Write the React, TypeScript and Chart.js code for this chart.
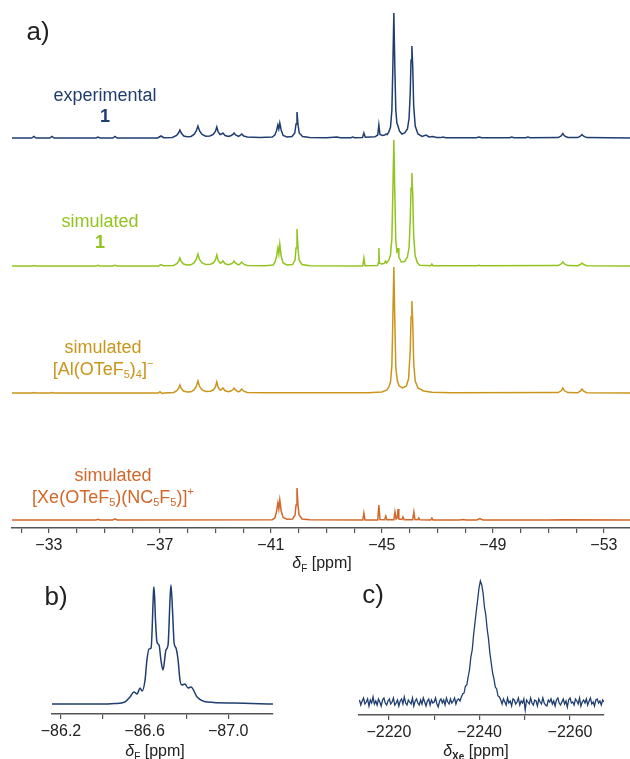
import React, { useEffect, useRef } from 'react';
import { Chart, registerables } from 'chart.js';

Chart.register(...registerables);

const FONT = '"Liberation Sans", Arial, Helvetica, sans-serif';
const BLUE = '#1f3d6e';
const GREEN = '#92c41e';
const GOLD = '#c9951c';
const ORANGE = '#d2672a';
const AXIS = '#555555';
const TEXT = '#222222';

// ---------- Panel a: 19F spectra (ppm, intensity) ----------
const A_RANGE = [-53.94, -31.67];
const A_TICKS = [-32, -33, -34, -35, -36, -37, -38, -39, -40, -41, -42, -43, -44, -45, -46, -47, -48, -49, -50, -51, -52, -53];
const A_LABELED = [-33, -37, -41, -45, -49, -53];
const A_OFFSETS = { experimental: 390, sim1: 262, al: 135, xe: 8 };

const EXPERIMENTAL: [number, number][] = [
  [-31.67, 0], [-32.38, 0], [-32.46, 1.5], [-32.54, 0],
  [-33.03, 0], [-33.11, 1.5], [-33.19, 0],
  [-34.70, 0], [-34.77, 1], [-34.84, 0],
  [-35.30, 0], [-35.38, 1.5], [-35.46, 0],
  [-36.92, 0], [-37.04, 2], [-37.14, 0.3],
  [-37.45, 0.5], [-37.60, 2.5], [-37.67, 5], [-37.72, 8], [-37.77, 5], [-37.86, 2], [-37.98, 1.2],
  [-38.12, 1.5], [-38.23, 3.5], [-38.31, 7], [-38.37, 12], [-38.43, 7], [-38.52, 3.5], [-38.65, 1.8],
  [-38.80, 2], [-38.92, 3.5], [-39.00, 6.5], [-39.05, 11], [-39.10, 6], [-39.17, 3.5],
  [-39.22, 4], [-39.27, 5], [-39.35, 2.5], [-39.47, 1.5],
  [-39.57, 2.5], [-39.63, 3.5], [-39.67, 5], [-39.73, 3], [-39.83, 1.5],
  [-39.89, 2.5], [-39.95, 4], [-40.02, 2], [-40.15, 1],
  [-40.6, 0.6], [-41.05, 1],
  [-41.14, 3], [-41.20, 7], [-41.25, 13], [-41.285, 9], [-41.32, 15], [-41.37, 8], [-41.44, 2.5], [-41.58, 1],
  [-41.76, 1.5], [-41.86, 5], [-41.905, 14], [-41.94, 26], [-41.975, 14], [-42.02, 5], [-42.14, 1.5], [-42.4, 0.5],
  [-43.0, 0.3], [-43.38, 1], [-43.5, 0.3],
  [-43.88, 0.3], [-43.95, 1], [-44.02, 0.3],
  [-44.30, 0.5], [-44.35, 5], [-44.40, 0.8],
  [-44.75, 1.2], [-44.85, 3], [-44.89, 13], [-44.93, 3.5], [-45.02, 2.5],
  [-45.10, 3], [-45.14, 4], [-45.19, 3.5],
  [-45.25, 6], [-45.31, 11], [-45.36, 28], [-45.395, 72], [-45.43, 125], [-45.465, 72], [-45.50, 28], [-45.54, 15],
  [-45.58, 12], [-45.63, 7], [-45.72, 4], [-45.82, 5], [-45.92, 9], [-45.98, 20], [-46.02, 45], [-46.05, 78],
  [-46.08, 92], [-46.11, 72], [-46.145, 32], [-46.20, 12], [-46.30, 4],
  [-46.45, 1.5], [-46.59, 3], [-46.70, 1],
  [-46.84, 1.5], [-46.97, 0.5],
  [-47.12, 0.4], [-47.20, 1], [-47.30, 0.3],
  [-48.40, 0.2], [-48.50, 1], [-48.60, 0.2],
  [-49.60, 0.2], [-49.68, 1], [-49.76, 0.2],
  [-50.18, 0.2], [-50.26, 1], [-50.34, 0.2],
  [-51.35, 0.4], [-51.46, 2], [-51.52, 4.5], [-51.58, 2], [-51.70, 0.5],
  [-52.05, 0.4], [-52.15, 1.8], [-52.21, 3.5], [-52.27, 1.8], [-52.38, 0.4],
  [-53.94, 0],
];

const SIMULATED_1: [number, number][] = [
  [-31.67, 0], [-32.40, 0], [-32.46, 0.5], [-32.52, 0],
  [-34.70, 0], [-34.77, 0.6], [-34.84, 0],
  [-35.30, 0], [-35.38, 0.8], [-35.46, 0],
  [-36.95, 0], [-37.04, 1.5], [-37.13, 0.2],
  [-37.50, 0.5], [-37.62, 2.5], [-37.68, 5], [-37.72, 8], [-37.76, 5], [-37.85, 2], [-37.98, 1],
  [-38.12, 1.2], [-38.23, 3], [-38.31, 6.5], [-38.37, 12], [-38.43, 6.5], [-38.52, 3], [-38.65, 1.5],
  [-38.82, 1.8], [-38.93, 3.2], [-39.00, 6], [-39.05, 11], [-39.10, 5.5], [-39.17, 3],
  [-39.22, 3.5], [-39.27, 5], [-39.35, 2.2], [-39.47, 1.2],
  [-39.57, 2.2], [-39.63, 3.2], [-39.67, 5], [-39.73, 2.8], [-39.83, 1.2],
  [-39.89, 2.2], [-39.95, 4], [-40.02, 1.8], [-40.15, 0.6],
  [-40.8, 0.3], [-41.08, 1],
  [-41.15, 4], [-41.20, 9], [-41.25, 18], [-41.285, 12], [-41.32, 22], [-41.37, 10], [-41.44, 3], [-41.58, 1],
  [-41.78, 1.5], [-41.87, 6], [-41.905, 18], [-41.94, 37], [-41.975, 18], [-42.015, 6], [-42.12, 1.5], [-42.4, 0.3],
  [-44.31, 0], [-44.35, 8], [-44.39, 0.3],
  [-44.84, 0.5], [-44.87, 3], [-44.89, 18], [-44.91, 3], [-44.98, 2],
  [-45.08, 2.5], [-45.13, 5], [-45.17, 3],
  [-45.25, 6], [-45.31, 11], [-45.36, 28], [-45.395, 75], [-45.43, 126], [-45.465, 72], [-45.50, 26], [-45.54, 14],
  [-45.57, 15], [-45.58, 18], [-45.61, 9], [-45.70, 4], [-45.82, 4.5], [-45.92, 9], [-45.98, 19], [-46.02, 45],
  [-46.05, 78], [-46.08, 93], [-46.11, 72], [-46.145, 30], [-46.20, 10], [-46.28, 3],
  [-46.32, 2], [-46.36, 0.8],
  [-46.76, 0.3], [-46.80, 2], [-46.84, 0.3],
  [-48.45, 0.2], [-48.50, 0.6], [-48.55, 0.2],
  [-51.35, 0.4], [-51.46, 2], [-51.52, 4], [-51.58, 2], [-51.70, 0.4],
  [-52.05, 0.3], [-52.15, 1.5], [-52.21, 3], [-52.27, 1.5], [-52.38, 0.3],
  [-53.94, 0],
];

const SIMULATED_AL: [number, number][] = [
  [-31.67, 0], [-32.40, 0], [-32.46, 0.5], [-32.52, 0],
  [-33.05, 0], [-33.11, 0.5], [-33.17, 0],
  [-36.95, 0], [-37.00, 1.2], [-37.08, -0.5], [-37.15, 0],
  [-37.50, 0.5], [-37.62, 2.5], [-37.68, 5], [-37.72, 8], [-37.76, 5], [-37.85, 2], [-37.98, 1],
  [-38.12, 1.2], [-38.23, 3], [-38.31, 6.5], [-38.37, 12], [-38.43, 6.5], [-38.52, 3], [-38.65, 1.5],
  [-38.82, 1.8], [-38.93, 3.2], [-39.00, 6], [-39.05, 11], [-39.10, 5.5], [-39.17, 3],
  [-39.22, 3.5], [-39.27, 5], [-39.35, 2.2], [-39.47, 1.2],
  [-39.57, 2.2], [-39.63, 3.2], [-39.67, 5], [-39.73, 2.8], [-39.83, 1.2],
  [-39.89, 2.2], [-39.95, 4], [-40.02, 1.8], [-40.15, 0.6],
  [-40.8, 0.2], [-44.5, 0.3], [-45.0, 1], [-45.18, 3],
  [-45.25, 6], [-45.31, 11], [-45.36, 28], [-45.395, 75], [-45.43, 126], [-45.465, 72], [-45.50, 26], [-45.55, 13],
  [-45.62, 7], [-45.75, 5], [-45.88, 7], [-45.96, 14], [-46.02, 42], [-46.05, 76], [-46.08, 92], [-46.11, 72],
  [-46.145, 30], [-46.20, 12], [-46.30, 5], [-46.5, 2], [-46.8, 0.8], [-47.5, 0.2],
  [-51.35, 0.4], [-51.46, 2.2], [-51.52, 5], [-51.58, 2.2], [-51.70, 0.4],
  [-52.05, 0.3], [-52.15, 1.8], [-52.21, 4], [-52.27, 1.8], [-52.38, 0.3],
  [-53.94, 0],
];

const SIMULATED_XE: [number, number][] = [
  [-31.67, 0], [-34.70, 0], [-34.77, 0.8], [-34.84, 0],
  [-35.30, 0], [-35.38, 1.2], [-35.46, 0],
  [-41.05, 0.3], [-41.14, 2], [-41.20, 8], [-41.25, 17], [-41.285, 11], [-41.32, 20], [-41.37, 9], [-41.44, 2.5], [-41.58, 0.8],
  [-41.78, 1], [-41.87, 5], [-41.905, 15], [-41.94, 32], [-41.975, 15], [-42.015, 5], [-42.12, 1], [-42.4, 0.2],
  [-44.31, 0], [-44.35, 7], [-44.39, 0],
  [-44.85, 0], [-44.89, 15], [-44.93, 0.5],
  [-45.10, 0.3], [-45.14, 4], [-45.18, 0.3],
  [-45.43, 0.3], [-45.47, 8], [-45.51, 1], [-45.55, 2], [-45.58, 11], [-45.61, 1], [-45.72, 0.5], [-45.76, 3], [-45.80, 0.3],
  [-46.11, 0.3], [-46.15, 8], [-46.19, 0.5], [-46.29, 0.3], [-46.33, 2], [-46.37, 0.2],
  [-46.76, 0], [-46.80, 2], [-46.84, 0],
  [-47.80, 0], [-47.92, 0.6], [-48.04, 0],
  [-48.42, 0], [-48.53, 1.5], [-48.64, 0],
  [-51.0, 0], [-51.5, 0.3], [-53.94, 0],
];

// ---------- Panel b: 19F (ppm, intensity) ----------
const B_RANGE = [-87.214, -86.157];
const B_TICKS = [-86.2, -86.4, -86.6, -86.8, -87.0];
const B_LABELED = [-86.2, -86.6, -87.0];
const B_SPECTRUM: [number, number][] = [
  [-86.157, 0], [-86.387, 0], [-86.458, 0.5], [-86.506, 2], [-86.530, 7], [-86.549, 12], [-86.564, 10],
  [-86.578, 16], [-86.588, 13], [-86.602, 24], [-86.611, 44], [-86.621, 55], [-86.631, 56], [-86.643, 114],
  [-86.645, 117], [-86.652, 84], [-86.659, 62], [-86.669, 59], [-86.678, 44], [-86.688, 34], [-86.702, 54],
  [-86.712, 59], [-86.722, 107], [-86.726, 119], [-86.734, 91], [-86.741, 61], [-86.750, 56], [-86.760, 44],
  [-86.769, 24], [-86.779, 19], [-86.793, 20], [-86.808, 16], [-86.822, 17], [-86.851, 7], [-86.899, 2],
  [-87.023, 1], [-87.214, 0],
];

// ---------- Panel c: 129Xe, evenly spaced points ----------
const C_RANGE = [-2267.5, -2213.4];
const C_TICKS = [-2220, -2230, -2240, -2250, -2260];
const C_LABELED = [-2220, -2240, -2260];
const C_START = -2213.5;
const C_STEP = 0.3;
const C_VALUES = [
  2, -3, 1, 4, -2, 0, 3, -4, 2, -1,
  5, -2, 1, -3, 3, 0, -4, 2, 4, -1,
  -3, 1, 3, -2, 0, 4, -3, -1, 2, -4,
  1, 3, -2, 5, -1, -3, 2, 0, -2, 4,
  -4, 1, 3, -1, -3, 2, -2, 4, 0, -4,
  1, 3, -3, 2, -1, 0, 4, -2, -5, 1,
  3, -1, 2, -3, 4, 0, -2, 3, -1, 1,
  4, -2, 2, 3, 1,
  5, 8, 9, 16, 17, 25, 32, 45, 52, 67, 79, 91, 102, 114, 121, 117, 109, 95, 87, 73, 63, 49, 39, 29, 23, 15, 13, 6, 5,
  2, -2, 3, 0, -3, 4, -1, 1, -4, 3,
  2, -2, 0, 4, -3, 1, -1, 3, -8, 2,
  0, -2, 4, -1, -3, 2, 1, -4, 3, 0,
  -2, 4, -1, -3, -4, 2, 0, 3, -2, 1,
  -4, 2, 4, -1, -3, 0, 3, -2, 1, -5,
  2, 4, -1, 0, -3, 3, 1, -2, 4, -4,
  0, 2, -1, 3, -3, 1, 4, -2, 0, -4,
  2, 3, -1, 1, -3, 2, 0,
];

// ---------- Text ----------
type Run = { t: string; sub?: boolean; sup?: boolean; bold?: boolean; italic?: boolean };
const LABEL_EXPERIMENTAL: Run[][] = [[{ t: 'experimental' }], [{ t: '1', bold: true }]];
const LABEL_SIM1: Run[][] = [[{ t: 'simulated' }], [{ t: '1', bold: true }]];
const LABEL_AL: Run[][] = [
  [{ t: 'simulated' }],
  [{ t: '[Al(OTeF' }, { t: '5', sub: true }, { t: ')' }, { t: '4', sub: true }, { t: ']' }, { t: '\u2212', sup: true }],
];
const LABEL_XE: Run[][] = [
  [{ t: 'simulated' }],
  [
    { t: '[Xe(OTeF' }, { t: '5', sub: true }, { t: ')(NC' }, { t: '5', sub: true }, { t: 'F' }, { t: '5', sub: true },
    { t: ')]' }, { t: '+', sup: true },
  ],
];
const TITLE_F: Run[] = [{ t: '\u03b4', italic: true }, { t: 'F', sub: true }, { t: ' [ppm]' }];
const TITLE_XE: Run[] = [{ t: '\u03b4', italic: true }, { t: 'Xe', sub: true, bold: true }, { t: ' [ppm]' }];

function drawRich(ctx: CanvasRenderingContext2D, runs: Run[], cx: number, cy: number, size: number, color: string) {
  const small = Math.round(size * 0.62);
  const font = (r: Run) =>
    `${r.italic ? 'italic ' : ''}${r.bold ? 'bold ' : ''}${r.sub || r.sup ? small : size}px ${FONT}`;
  let total = 0;
  const ws = runs.map((r) => {
    ctx.font = font(r);
    const w = ctx.measureText(r.t).width;
    total += w;
    return w;
  });
  let x = cx - total / 2;
  ctx.save();
  ctx.fillStyle = color;
  ctx.textBaseline = 'middle';
  ctx.textAlign = 'left';
  runs.forEach((r, i) => {
    ctx.font = font(r);
    const dy = r.sub ? size * 0.3 : r.sup ? -size * 0.32 : 0;
    ctx.fillText(r.t, x, cy + dy);
    x += ws[i];
  });
  ctx.restore();
}

type TextItem = { runs: Run[]; x: number; y: number; size: number; color: string };

function textPlugin(items: TextItem[]) {
  return {
    id: 'richText',
    afterDraw(chart: any) {
      const ctx = chart.ctx as CanvasRenderingContext2D;
      items.forEach((it) => drawRich(ctx, it.runs, it.x, it.y, it.size, it.color));
    },
  };
}

function labelItems(lines: Run[][], x: number, y: number, dy: number, color: string): TextItem[] {
  return lines.map((runs, i) => ({ runs, x, y: y + i * dy, size: 18, color }));
}

const toXY = (pts: [number, number][], off: number) => pts.map(([x, y]) => ({ x, y: y + off }));

function lineDataset(data: { x: number; y: number }[], color: string, width = 1.5, smooth = false) {
  return {
    data,
    borderColor: color,
    borderWidth: width,
    pointRadius: 0,
    fill: false,
    tension: 0,
    cubicInterpolationMode: smooth ? 'monotone' : 'default',
  };
}

function xScale(range: number[], ticks: number[], labeled: number[], fmt: (v: number) => string, height: number) {
  return {
    type: 'linear',
    reverse: true,
    min: range[0],
    max: range[1],
    afterBuildTicks: (s: any) => {
      s.ticks = ticks.map((v) => ({ value: v }));
    },
    afterFit: (s: any) => {
      s.height = height;
    },
    border: { display: true, color: AXIS, width: 1.5 },
    grid: { display: true, drawOnChartArea: false, drawTicks: true, tickLength: 5, color: AXIS, lineWidth: 1.2 },
    ticks: {
      autoSkip: false,
      maxRotation: 0,
      padding: 3,
      color: TEXT,
      font: { family: FONT, size: 16 },
      callback: (v: number) => (labeled.includes(v) ? fmt(v) : ''),
    },
  };
}

const minus = (s: string) => '\u2212' + s;

function configA() {
  return {
    type: 'line',
    data: {
      datasets: [
        lineDataset(toXY(SIMULATED_XE, A_OFFSETS.xe), ORANGE),
        lineDataset(toXY(SIMULATED_AL, A_OFFSETS.al), GOLD),
        lineDataset(toXY(SIMULATED_1, A_OFFSETS.sim1), GREEN),
        lineDataset(toXY(EXPERIMENTAL, A_OFFSETS.experimental), BLUE),
      ],
    },
    options: {
      animation: false,
      responsive: false,
      layout: { padding: { left: 12, right: 0, top: 8, bottom: 0 } },
      plugins: { legend: { display: false }, tooltip: { enabled: false } },
      scales: {
        x: xScale(A_RANGE, A_TICKS, A_LABELED, (v) => minus(String(Math.abs(v))), 47),
        y: { display: false, min: 0, max: 520 },
      },
    },
    plugins: [
      textPlugin([
        { runs: [{ t: 'a)' }], x: 38, y: 33, size: 26, color: TEXT },
        ...labelItems(LABEL_EXPERIMENTAL, 105, 96, 21, BLUE),
        ...labelItems(LABEL_SIM1, 100, 222, 21, GREEN),
        ...labelItems(LABEL_AL, 103, 348, 22, GOLD),
        ...labelItems(LABEL_XE, 113, 476, 22, ORANGE),
        { runs: TITLE_F, x: 322, y: 564, size: 16, color: TEXT },
      ]),
    ],
  };
}

function configB() {
  return {
    type: 'line',
    data: { datasets: [lineDataset(toXY(B_SPECTRUM, 0), BLUE, 1.5, true)] },
    options: {
      animation: false,
      responsive: false,
      layout: { padding: { left: 52, right: 42, top: 5, bottom: 0 } },
      plugins: { legend: { display: false }, tooltip: { enabled: false } },
      scales: {
        x: xScale(B_RANGE, B_TICKS, B_LABELED, (v) => minus(Math.abs(v).toFixed(1)), 45),
        y: { display: false, min: -10, max: 124 },
      },
    },
    plugins: [
      textPlugin([
        { runs: [{ t: 'b)' }], x: 56, y: 23, size: 26, color: TEXT },
        { runs: TITLE_F, x: 155, y: 177, size: 16, color: TEXT },
      ]),
    ],
  };
}

function configC() {
  const data = C_VALUES.map((v, i) => ({ x: C_START - i * C_STEP, y: v }));
  return {
    type: 'line',
    data: { datasets: [lineDataset(data, BLUE, 1.3)] },
    options: {
      animation: false,
      responsive: false,
      layout: { padding: { left: 44, right: 26, top: 3, bottom: 0 } },
      plugins: { legend: { display: false }, tooltip: { enabled: false } },
      scales: {
        x: xScale(C_RANGE, C_TICKS, C_LABELED, (v) => minus(String(Math.abs(v))), 44),
        y: { display: false, min: -13, max: 124 },
      },
    },
    plugins: [
      textPlugin([
        { runs: [{ t: 'c)' }], x: 58, y: 21, size: 26, color: TEXT },
        { runs: TITLE_XE, x: 161, y: 177, size: 16, color: TEXT },
      ]),
    ],
  };
}

function ChartCanvas(props: { make: () => any; left: number; top: number; width: number; height: number }) {
  const ref = useRef<HTMLCanvasElement>(null);
  useEffect(() => {
    const chart = new Chart(ref.current as HTMLCanvasElement, props.make());
    return () => chart.destroy();
  }, []);
  return (
    <canvas
      ref={ref}
      width={props.width}
      height={props.height}
      style={{ position: 'absolute', left: props.left, top: props.top, width: props.width, height: props.height }}
    />
  );
}

export default function App() {
  return (
    <div style={{ position: 'absolute', left: 0, top: 0, width: 630, height: 759, background: '#ffffff' }}>
      <ChartCanvas make={configA} left={0} top={0} width={630} height={575} />
      <ChartCanvas make={configB} left={0} top={575} width={315} height={184} />
      <ChartCanvas make={configC} left={315} top={575} width={315} height={184} />
    </div>
  );
}
